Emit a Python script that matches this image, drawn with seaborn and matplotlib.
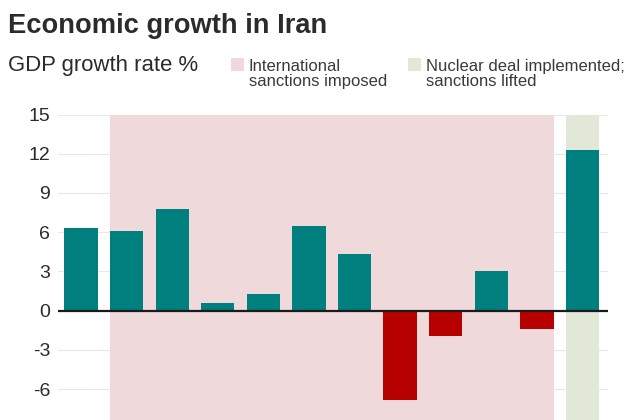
import matplotlib
matplotlib.use("Agg")
import matplotlib.pyplot as plt
from matplotlib.patches import Rectangle
import pandas as pd
import seaborn as sns

years = [2005, 2006, 2007, 2008, 2009, 2010, 2011, 2012, 2013, 2014, 2015, 2016]
growth = [6.3, 6.1, 7.8, 0.6, 1.3, 6.5, 4.3, -6.8, -1.9, 3.0, -1.4, 12.3]
y_ticks = [-9, -6, -3, 0, 3, 6, 9, 12, 15]
sanction_years = (2006, 2015)
lifted_years = (2016, 2016)

TEAL, RED, PINK, GREEN = "#007f7f", "#b70000", "#efd9da", "#e2e8d8"
TEXT = "#2b2b2b"
BAR_W = 0.73

sns.set_theme(style="white")
plt.rcParams["font.family"] = ["Liberation Sans", "DejaVu Sans"]

fig = plt.figure(figsize=(6.4, 4.2), dpi=100)
T, B = 114.5, 435.0
ax = fig.add_axes([58 / 640, 1 - B / 420, 550 / 640, (B - T) / 420])

df = pd.DataFrame({"year": years, "growth": growth})
df["sign"] = ["up" if v >= 0 else "down" for v in growth]
sns.barplot(data=df, x="year", y="growth", hue="sign", order=years,
            palette={"up": TEAL, "down": RED}, dodge=False, width=BAR_W,
            legend=False, saturation=1, linewidth=0, ax=ax, zorder=3)

def span(rng, color):
    a, b = years.index(rng[0]), years.index(rng[1])
    ax.axvspan(a - BAR_W / 2, b + BAR_W / 2, color=color, lw=0, zorder=1)

span(sanction_years, PINK)
span(lifted_years, GREEN)

ax.set_xlim(-0.505, 11.56)
ax.set_ylim(-9.5, 15)
ax.set_yticks(y_ticks)
ax.set_yticklabels([str(v) for v in y_ticks], fontsize=14, color=TEXT)
ax.set_xticks([])
ax.set_xlabel("")
ax.set_ylabel("")
ax.tick_params(axis="y", length=0, pad=5.5)
ax.grid(axis="y", color="#e8e8e8", lw=0.8, zorder=0)
ax.set_axisbelow(True)
for s in ax.spines.values():
    s.set_visible(False)
ax.axhline(0, color="#1a1a1a", lw=1.6, zorder=4)

fig.text(8 / 640, 1 - 26 / 420, "Economic growth in Iran", fontsize=19.6,
         fontweight="bold", color=TEXT, va="center", ha="left")
fig.text(8 / 640, 1 - 65 / 420, "GDP growth rate %", fontsize=15.9,
         color=TEXT, va="center", ha="left")

def legend(x, w, lines):
    fig.add_artist(Rectangle((x / 640, 1 - 71 / 420), w / 640, 13 / 420,
                             transform=fig.transFigure, color=lines[1], lw=0))
    fig.text((x + 18) / 640, 1 - 74 / 420, lines[0], fontsize=12.0, linespacing=0.95,
             color="#3a3a3a", va="center", ha="left")

legend(231, 13, ("International\nsanctions imposed", PINK))
legend(408, 13, ("Nuclear deal implemented;\nsanctions lifted", GREEN))

fig.savefig("out.png", dpi=100)
